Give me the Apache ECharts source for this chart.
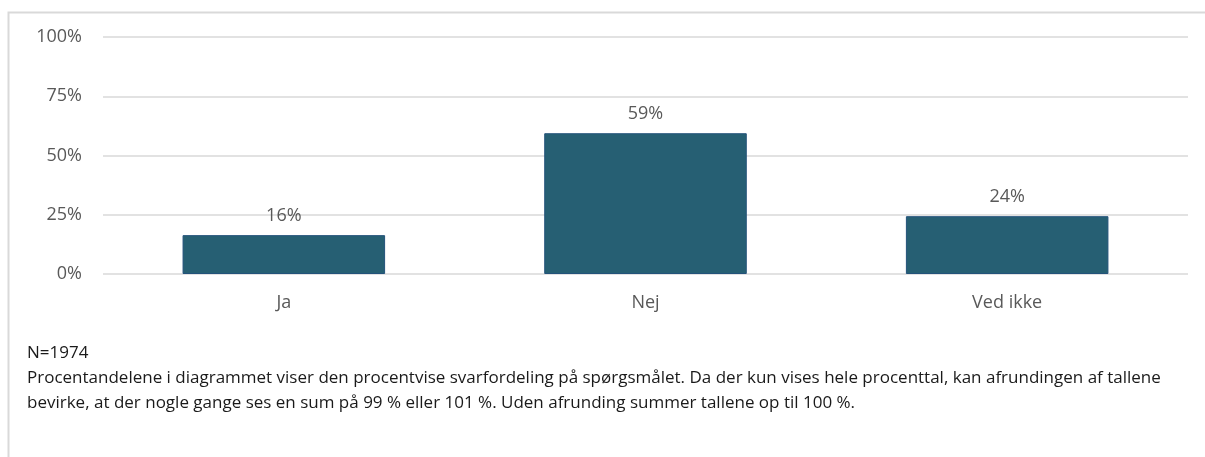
<!DOCTYPE html>
<html><head><meta charset="utf-8">
<script src="https://cdn.jsdelivr.net/npm/echarts@6/dist/echarts.min.js"></script>
<style>html,body{margin:0;padding:0;background:#fff}#c{width:1205px;height:457px}</style>
</head><body><div id="c"></div>
<script>
const categories = ['Ja', 'Nej', 'Ved ikke'];
const values = [16.4, 59.4, 24.4];
const yTicks = [0, 25, 50, 75, 100];
const noteLines = [
  'N=1974',
  'Procentandelene i diagrammet viser den procentvise svarfordeling på spørgsmålet. Da der kun vises hele procenttal, kan afrundingen af tallene',
  'bevirke, at der nogle gange ses en sum på 99 % eller 101 %. Uden afrunding summer tallene op til 100 %.'
];
const FONT = 'Open Sans';
const chart = echarts.init(document.getElementById('c'));
chart.setOption({
  animation: false,
  backgroundColor: '#fff',
  textStyle: { fontFamily: FONT },
  grid: { left: 103, right: 17, top: 37, bottom: 183 },
  xAxis: {
    type: 'category', data: categories,
    axisLine: { show: false }, axisTick: { show: false },
    axisLabel: { color: '#595959', fontSize: 18, margin: 20, fontFamily: FONT }
  },
  yAxis: {
    type: 'value', min: yTicks[0], max: yTicks[yTicks.length - 1], interval: 25,
    axisLine: { show: false }, axisTick: { show: false },
    axisLabel: { color: '#595959', fontSize: 18, margin: 21, formatter: v => v + '%', fontFamily: FONT },
    splitLine: { lineStyle: { color: '#D9D9D9', width: 1.5 } }
  },
  series: [{
    type: 'bar', data: values, barWidth: '56%',
    itemStyle: { color: '#265F73', borderColor: '#23527A', borderWidth: 1 },
    label: { show: true, position: 'top', distance: 10, color: '#595959', fontSize: 18, fontFamily: FONT,
      formatter: p => Math.round(p.value) + '%' }
  }],
  graphic: [
    { type: 'rect', silent: true, z: -1, shape: { x: 8.5, y: 12.5, width: 1220, height: 470 },
      style: { fill: null, stroke: '#D9D9D9', lineWidth: 2 } },
    ...noteLines.map((t, i) => ({
      type: 'text', left: 27, top: 345 + i * 25,
      style: { text: t, fill: '#1a1a1a', font: '17px "' + FONT + '"' }
    }))
  ]
});
</script></body></html>
